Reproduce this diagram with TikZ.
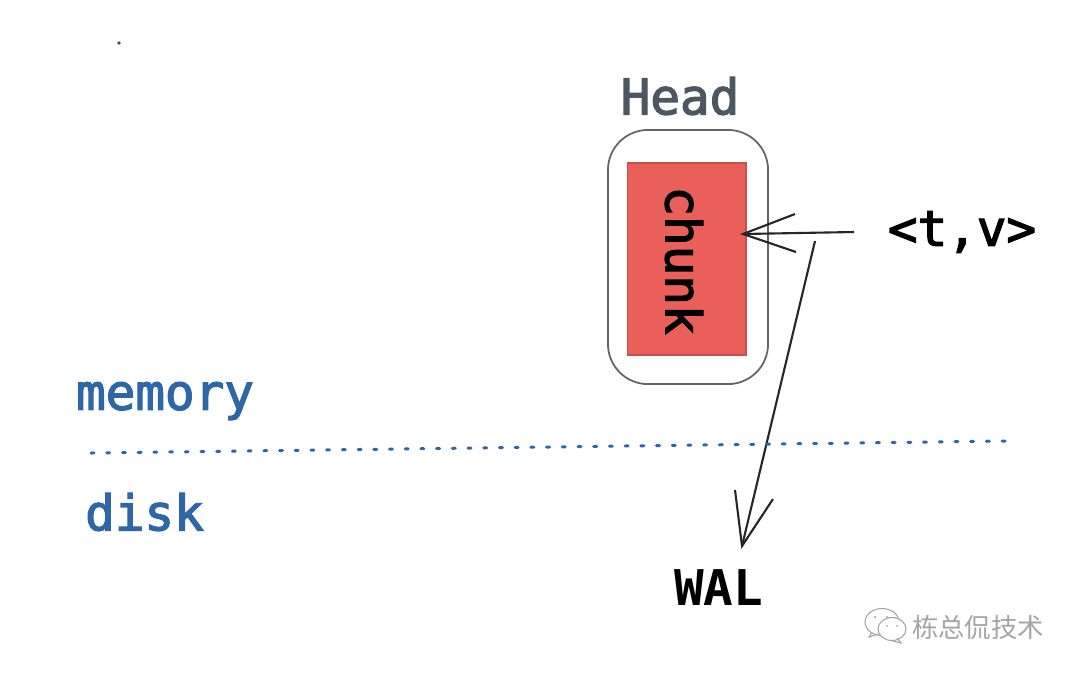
\documentclass[tikz,border=0pt]{standalone}
\usepackage{fontspec}
\usepackage{xcolor}
\setmonofont{DejaVu Sans Mono}
\newfontfamily\medfont[FakeBold=2.6]{DejaVu Sans Mono}
\newfontfamily\markfont{Noto Sans CJK SC}
\definecolor{sketchBlue}{RGB}{47,102,168}
\definecolor{headGray}{RGB}{77,87,97}
\definecolor{chunkRed}{RGB}{234,95,90}
\definecolor{chunkEdge}{RGB}{201,79,74}
\definecolor{frameGray}{RGB}{96,100,106}
\definecolor{markGray}{RGB}{165,165,165}
\tikzset{
  monotext/.style={font=\medfont\fontsize{14}{16}\selectfont, inner sep=0pt},
  boldtext/.style={font=\ttfamily\bfseries\fontsize{14}{16}\selectfont, inner sep=0pt},
  sketchline/.style={black!85, line width=0.6pt},
}

\begin{document}
\begin{tikzpicture}[x=0.01cm,y=-0.01cm]
    \useasboundingbox (0,0) rectangle (1080,675);

    % head box with chunk
    \node[draw=frameGray, line width=0.5pt, rounded corners=0.4cm, minimum width=1.6cm, minimum height=2.54cm, inner sep=0pt] (headbox) at (688,257) {};
    \node[draw=chunkEdge, fill=chunkRed, line width=0.4pt, minimum width=1.185cm, minimum height=1.92cm, inner sep=0pt] (chunkbox) at (686.8,259) {};
    \node[monotext, rotate=-90] (chunklabel) at (684,260.5) {chunk};
    \node[monotext, text=headGray] (headlabel) at (680,96) {Head};

    % labels
    \node[monotext] (tvlabel) at (962,232) {<t,v>};
    \node[boldtext] (wallabel) at (718.5,588) {WAL};
    \node[monotext, text=sketchBlue] (memorylabel) at (165,401) {memory};
    \node[monotext, text=sketchBlue] (disklabel) at (144.5,512) {disk};

    % hand drawn arrows
    \coordinate (tvtail) at (854,232);
    \coordinate (chunktip) at (743,234);
    \coordinate (waltail) at (815,241);
    \coordinate (waltip) at (742,546);
    \draw[sketchline] (tvtail) -- (chunktip);
    \draw[sketchline] (795,214) -- (chunktip) -- (796,252);
    \draw[sketchline] (waltail) -- (waltip);
    \draw[sketchline] (735,490) -- (waltip) -- (773,499);

    % memory and disk border
    \coordinate (borderleft) at (91,453);
    \coordinate (borderright) at (1005,441);
    \draw[sketchBlue, line width=0.85pt, line cap=round, dash pattern=on 0.03cm off 0.127cm] (borderleft) -- (borderright);

    % stray dot
    \fill[black!70] (119,43) circle (0.018cm);

    % watermark
    \draw[markGray, line width=0.3pt, fill=white] (882,622) ellipse (0.17cm and 0.135cm);
    \draw[markGray, line width=0.3pt] (872,632) -- (869,637) -- (878,634);
    \draw[markGray, line width=0.3pt, fill=white] (892,629) ellipse (0.14cm and 0.115cm);
    \draw[markGray, line width=0.3pt] (897,638) -- (901,643) -- (891,640.5);
    \fill[markGray] (875,617) circle (0.012cm) (887,617) circle (0.012cm) (887,626) circle (0.01cm) (897,626) circle (0.01cm);
    \node[inner sep=0pt, text=markGray, font=\markfont\fontsize{7.5}{9}\selectfont] (marklabel) at (978,627) {栋总侃技术};
\end{tikzpicture}
\end{document}
